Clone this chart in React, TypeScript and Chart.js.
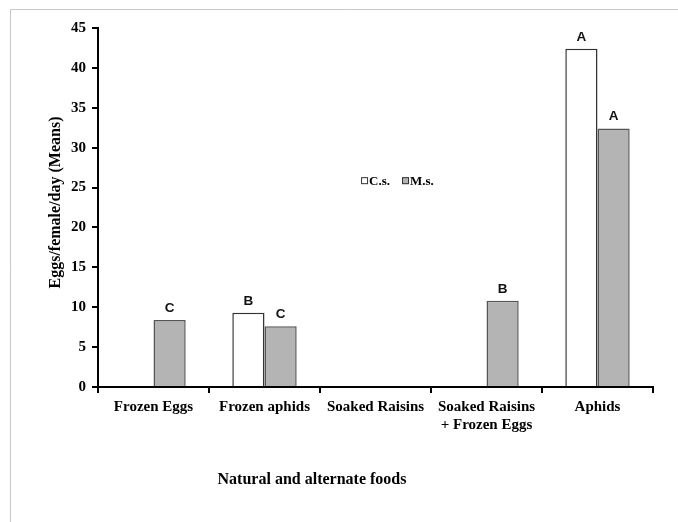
import React, { useEffect, useRef } from "react";
import { Chart, registerables } from "chart.js";

Chart.register(...registerables);

const categories: (string | string[])[] = [
  "Frozen Eggs",
  "Frozen aphids",
  "Soaked Raisins",
  ["Soaked Raisins", "+ Frozen Eggs"],
  "Aphids",
];
const csValues: (number | null)[] = [null, 9.3, null, null, 42.4];
const msValues: (number | null)[] = [8.4, 7.6, null, 10.8, 32.4];
const csLetters: string[] = ["", "B", "", "", "A"];
const msLetters: string[] = ["C", "C", "", "B", "A"];
const seriesNames: string[] = ["C.s.", "M.s."];
const yTitle = "Eggs/female/day (Means)";
const xTitle = "Natural and alternate foods";

const SERIF = "'Liberation Serif', 'DejaVu Serif', serif";
const SANS = "'Liberation Sans', Arial, sans-serif";

const frameAndText = {
  id: "frameAndText",
  beforeDraw(chart: any) {
    const ctx = chart.ctx;
    ctx.save();
    ctx.fillStyle = "#ffffff";
    ctx.fillRect(0, 0, chart.width, chart.height);
    ctx.strokeStyle = "#c8c8c8";
    ctx.lineWidth = 1;
    ctx.beginPath();
    ctx.moveTo(10.5, chart.height);
    ctx.lineTo(10.5, 9.5);
    ctx.lineTo(chart.width, 9.5);
    ctx.stroke();
    ctx.restore();
  },
  afterDraw(chart: any) {
    const ctx = chart.ctx;
    const area = chart.chartArea;
    ctx.save();
    ctx.fillStyle = "#000";
    ctx.font = `bold 16px ${SERIF}`;
    ctx.textAlign = "center";
    ctx.textBaseline = "middle";
    // y title
    ctx.save();
    ctx.translate(56, (area.top + area.bottom) / 2 - 5);
    ctx.rotate(-Math.PI / 2);
    ctx.fillText(yTitle, 0, 0);
    ctx.restore();
    // x title
    ctx.fillText(xTitle, 312, 480);

    // legend
    const ys = chart.scales.y;
    const ly = ys.getPixelForValue(25.8);
    let lx = area.left + (area.right - area.left) * 0.474;
    const fills = ["#ffffff", "#b4b4b4"];
    ctx.font = `bold 13px ${SERIF}`;
    ctx.textAlign = "left";
    seriesNames.forEach((name, i) => {
      ctx.fillStyle = fills[i];
      ctx.fillRect(lx, ly - 4, 7, 7);
      ctx.strokeStyle = "#333";
      ctx.lineWidth = 1;
      ctx.strokeRect(lx + 0.5, ly - 3.5, 6, 6);
      ctx.fillStyle = "#000";
      ctx.fillText(name, lx + 8, ly);
      lx += 8 + ctx.measureText(name).width + 12;
    });

    // letters
    const letterSets = [csLetters, msLetters];
    ctx.font = `bold 13.5px ${SANS}`;
    ctx.textAlign = "center";
    ctx.textBaseline = "bottom";
    ctx.fillStyle = "#111";
    chart.data.datasets.forEach((ds: any, di: number) => {
      const meta = chart.getDatasetMeta(di);
      meta.data.forEach((el: any, idx: number) => {
        const t = letterSets[di][idx];
        if (!t || ds.data[idx] == null) return;
        ctx.fillText(t, el.x, el.y - 5);
      });
    });
    ctx.restore();
  },
};

export default function App() {
  const ref = useRef<HTMLCanvasElement | null>(null);
  useEffect(() => {
    if (!ref.current) return;
    const chart = new Chart(ref.current, {
      type: "bar",
      data: {
        labels: categories,
        datasets: [
          {
            label: seriesNames[0],
            data: csValues,
            backgroundColor: "#ffffff",
            borderColor: "#333333",
            borderWidth: 1.5,
            borderSkipped: "bottom",
            categoryPercentage: 0.58,
            barPercentage: 1.0,
          },
          {
            label: seriesNames[1],
            data: msValues,
            backgroundColor: "#b4b4b4",
            borderColor: "#555555",
            borderWidth: 1.5,
            borderSkipped: "bottom",
            categoryPercentage: 0.58,
            barPercentage: 1.0,
          },
        ],
      },
      options: {
        responsive: false,
        animation: false,
        layout: { padding: { left: 0, right: 25, top: 28, bottom: 0 } },
        plugins: {
          legend: { display: false },
          tooltip: { enabled: false },
          title: { display: false },
        },
        scales: {
          x: {
            afterFit(scale: any) {
              scale.height = 135;
            },
            grid: {
              display: true,
              drawOnChartArea: false,
              drawTicks: true,
              tickLength: 6,
              color: "#000",
              lineWidth: 2,
              offset: true,
            },
            border: { display: true, color: "#000", width: 2 },
            ticks: {
              color: "#000",
              font: { family: SERIF, size: 15, weight: "bold" },
              padding: 5,
              maxRotation: 0,
              autoSkip: false,
            },
          },
          y: {
            min: 0,
            max: 45,
            afterFit(scale: any) {
              scale.width = 98;
            },
            grid: {
              display: true,
              drawOnChartArea: false,
              drawTicks: true,
              tickLength: 6,
              color: "#000",
              lineWidth: 2,
            },
            border: { display: true, color: "#000", width: 2 },
            ticks: {
              stepSize: 5,
              color: "#000",
              font: { family: SERIF, size: 15, weight: "bold" },
              padding: 6,
            },
          },
        },
      },
      plugins: [frameAndText],
    });
    return () => chart.destroy();
  }, []);
  return (
    <div style={{ position: "fixed", left: 0, top: 0, width: 678, height: 522, background: "#fff" }}>
      <canvas ref={ref} width={678} height={522} />
    </div>
  );
}
